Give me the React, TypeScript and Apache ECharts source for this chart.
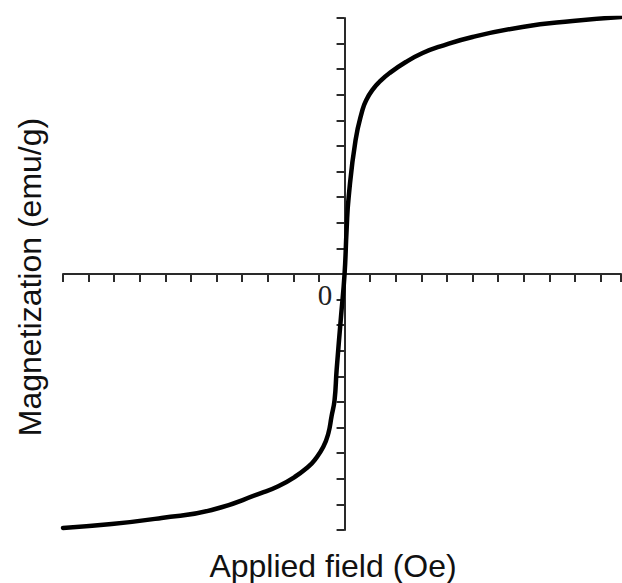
import React, { useEffect, useRef } from "react";
import * as echarts from "echarts";

const fieldValues = [-11.0, -9.1, -7.15, -5.19, -3.24, -2.59, -1.95, -1.42, -1.17, -0.83, -0.63, -0.51, -0.39, -0.31, -0.14, 0, 0.08, 0.16, 0.43, 0.7, 0.85, 1.09, 1.37, 1.76, 2.41, 3.05, 3.71, 5.0, 6.95, 8.91, 10.8];
const magnetValues = [-9.92, -9.77, -9.53, -9.22, -8.55, -8.29, -7.93, -7.53, -7.27, -6.75, -6.21, -5.57, -4.92, -3.75, -1.68, 0, 1.72, 3.0, 5.23, 6.41, 6.8, 7.19, 7.51, 7.85, 8.29, 8.63, 8.88, 9.26, 9.65, 9.88, 10.04];
const xTitle = "Applied field (Oe)";
const yTitle = "Magnetization (emu/g)";
const originLabel = "0";

export default function App() {
  const ref = useRef<HTMLDivElement>(null);
  useEffect(() => {
    if (!ref.current) return;
    const chart = echarts.init(ref.current, null, { renderer: "svg" });
    const axisStyle = {
      axisLine: { onZero: true, lineStyle: { color: "#2a2a2a", width: 2 } },
      axisTick: { show: true, length: 8, lineStyle: { color: "#2a2a2a", width: 2 } },
      axisLabel: { show: false },
      splitLine: { show: false },
    };
    chart.setOption({
      animation: false,
      backgroundColor: "#ffffff",
      grid: { left: 63, right: 1, top: 18, bottom: 53 },
      xAxis: {
        type: "value",
        min: -11,
        max: 10.8,
        interval: 1,
        ...axisStyle,
      },
      yAxis: {
        type: "value",
        min: -10,
        max: 10,
        interval: 1,
        ...axisStyle,
      },
      series: [
        {
          type: "line",
          data: fieldValues.map((x, i) => [x, magnetValues[i]]),
          showSymbol: false,
          smooth: 0.5,
          lineStyle: { color: "#000000", width: 4.5, cap: "round", join: "round" },
          z: 5,
        },
      ],
      graphic: [
        {
          type: "text",
          x: 325,
          y: 295,
          style: {
            text: originLabel,
            fontSize: 29,
            fontFamily: "Liberation Serif",
            fill: "#222",
            align: "center",
            verticalAlign: "middle",
          },
        },
        {
          type: "text",
          x: 333,
          y: 566,
          style: {
            text: xTitle,
            fontSize: 32,
            fontFamily: "Liberation Sans",
            fill: "#111",
            align: "center",
            verticalAlign: "middle",
          },
        },
        {
          type: "text",
          x: 30,
          y: 277,
          rotation: Math.PI / 2,
          style: {
            text: yTitle,
            fontSize: 32,
            fontFamily: "Liberation Sans",
            fill: "#111",
            align: "center",
            verticalAlign: "middle",
          },
        },
      ],
    });
    return () => chart.dispose();
  }, []);
  return (
    <div
      ref={ref}
      style={{ position: "fixed", left: 0, top: 0, width: 622, height: 583 }}
    />
  );
}
